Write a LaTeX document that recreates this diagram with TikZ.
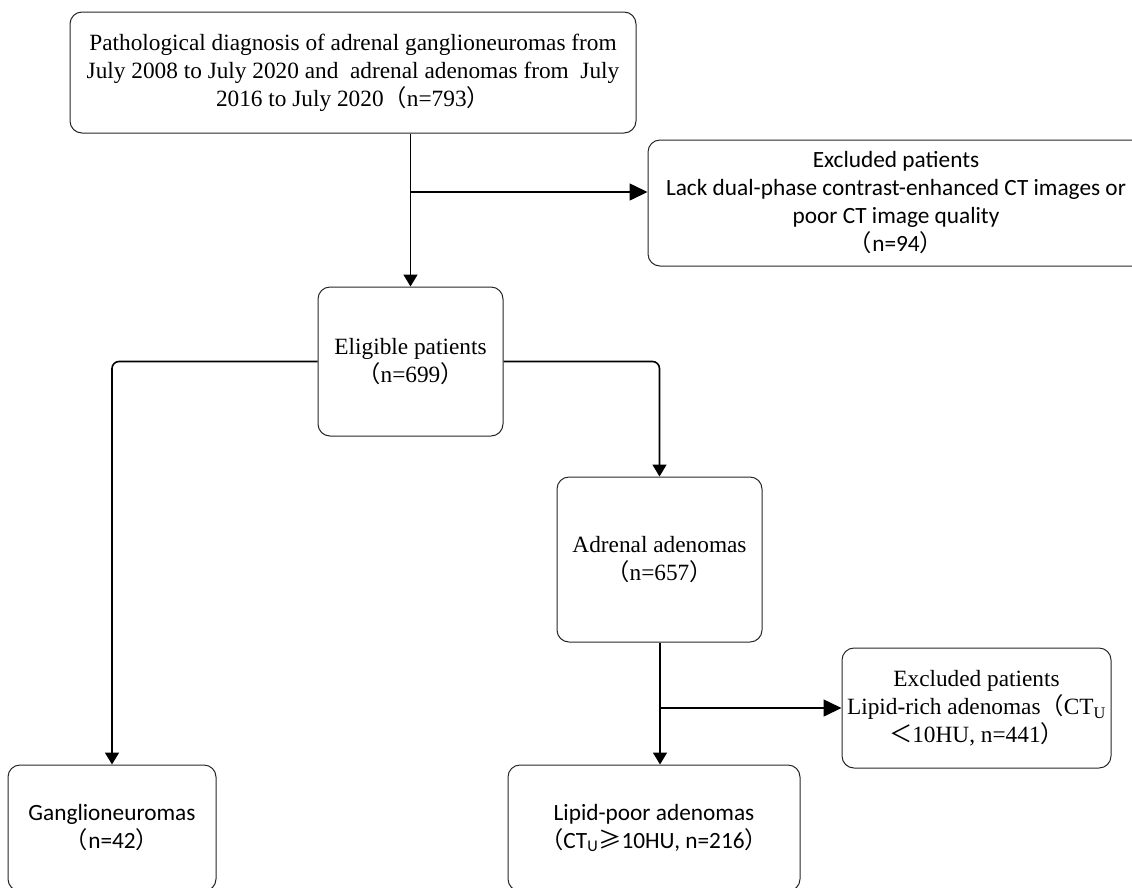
\documentclass[tikz,border=0pt]{standalone}
\usepackage{fontspec}
\setmainfont{Liberation Serif}
\newfontfamily\calfont{Carlito}
\newfontfamily\cjk{Noto Sans CJK SC}
\newcommand{\fwl}{{\cjk （}}
\newcommand{\fwr}{{\cjk ）}}
\usetikzlibrary{arrows.meta,positioning}

\tikzset{
  flowbox/.style={draw=black!85, line width=1pt, rounded corners=12pt, inner sep=0pt, align=center},
  serifbox/.style={flowbox, font=\fontsize{23.3}{28}\selectfont},
  sansbox/.style={flowbox, font=\calfont\fontsize{23.3}{28}\selectfont},
  flowline/.style={line width=1.6pt},
  smallarr/.style={flowline, -{Triangle[length=12pt,width=14pt]}},
  bigarr/.style={flowline, -{Triangle[length=18pt,width=17pt]}}
}

\begin{document}
\begin{tikzpicture}[x=1pt, y=-1pt]
  \useasboundingbox (0,0) rectangle (1132,887);

  % boxes
  \node[serifbox, minimum width=566pt, minimum height=121pt] (diag) at (353,72.5) {Pathological diagnosis of adrenal ganglioneuromas from\\July 2008 to July 2020 and\ \ adrenal adenomas from\ \ July\\2016 to July 2020\fwl n=793\fwr};
  \node[sansbox, minimum width=496pt, minimum height=126pt] (excl1) at (896,203) {Excluded patients\\Lack dual-phase contrast-enhanced CT images or\\poor CT image quality\\\fwl n=94\fwr};
  \node[serifbox, minimum width=185pt, minimum height=149pt] (elig) at (410.5,361.5) {Eligible patients\\\fwl n=699\fwr};
  \node[serifbox, minimum width=205pt, minimum height=165pt] (aden) at (659.5,559.5) {Adrenal adenomas\\\fwl n=657\fwr};
  \node[serifbox, minimum width=269pt, minimum height=120pt] (excl2) at (976.5,708) {Excluded patients\\Lipid-rich adenomas\fwl CT\textsubscript{U}\\{\cjk ＜}10HU, n=441\fwr};
  \node[sansbox, minimum width=208pt, minimum height=126pt] (gang) at (112,828) {Ganglioneuromas\\\fwl n=42\fwr};
  \node[sansbox, minimum width=292pt, minimum height=126pt] (lpoor) at (654,828) {Lipid-poor adenomas\\\fwl CT\textsubscript{U}{\cjk ≥}10HU, n=216\fwr};

  % connectors
  \coordinate (split1) at (411,192);
  \coordinate (split2) at (660,708);
  \draw[smallarr] (diag.south -| elig.north) -- (elig.north);
  \draw[bigarr] (split1) -- (split1 -| excl1.west);
  \draw[smallarr, rounded corners=7pt] (elig.west) -| (gang.north);
  \draw[smallarr, rounded corners=7pt] (elig.east) -| (aden.north);
  \draw[smallarr] (aden.south -| split2) -- (lpoor.north -| split2);
  \draw[bigarr] (split2) -- (excl2.west);
\end{tikzpicture}
\end{document}
